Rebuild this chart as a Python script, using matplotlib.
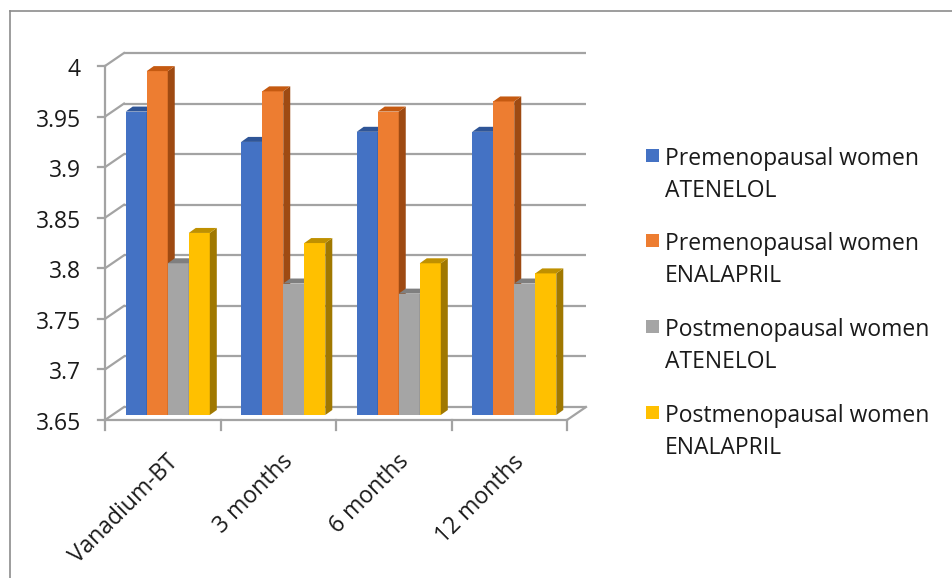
import matplotlib
matplotlib.use("Agg")
import matplotlib.pyplot as plt
from matplotlib.patches import Polygon, Rectangle
from matplotlib.lines import Line2D
import matplotlib.transforms as mtransforms

plt.rcParams['font.family'] = ['Open Sans', 'DejaVu Sans']

categories = ["Vanadium-BT", "3 months", "6 months", "12 months"]
series_names = ["Premenopausal women\nATENELOL", "Premenopausal women\nENALAPRIL",
                "Postmenopausal women\nATENELOL", "Postmenopausal women\nENALAPRIL"]
pre_atenelol = [3.95, 3.92, 3.93, 3.93]
pre_enalapril = [3.99, 3.97, 3.95, 3.96]
post_atenelol = [3.80, 3.78, 3.77, 3.78]
post_enalapril = [3.83, 3.82, 3.80, 3.79]
series_values = [pre_atenelol, pre_enalapril, post_atenelol, post_enalapril]
ytick_values = [3.65, 3.70, 3.75, 3.80, 3.85, 3.90, 3.95, 4.00]
ytick_labels = ["3.65", "3.7", "3.75", "3.8", "3.85", "3.9", "3.95", "4"]

front_colors = ["#4472C4", "#ED7D31", "#A5A5A5", "#FFC000"]
top_colors = ["#2F5597", "#C55A11", "#7F7F7F", "#BF9000"]
side_colors = ["#2A4B86", "#9E4A12", "#6E6E6E", "#A07800"]

FS = 16.5
TXT = "#1a1a1a"

W, H = 953, 578
fig = plt.figure(figsize=(W / 100, H / 100), dpi=100)
fig.patch.set_facecolor("white")

def fx(px):
    return px / W

def fy(py):
    return 1 - py / H

# front plane: x -0.5..3.5 -> 105..567 px, y 3.65..4.0 -> 420..66 px
ax = fig.add_axes([fx(105), fy(420), (567 - 105) / W, (420 - 66) / H])
ymin, ymax = ytick_values[0], ytick_values[-1]
xmin, xmax = -0.5, len(categories) - 0.5
ax.set_xlim(xmin, xmax)
ax.set_ylim(ymin, ymax)
ax.axis("off")

sx = (567 - 105) / (xmax - xmin)
sy = (420 - 66) / (ymax - ymin)

def dx(p):
    return p / sx

def dy(p):
    return p / sy

BX, BY = 19, 13      # back wall offset (px)
FX, FY = 5, 5        # bar front-plane offset (px)
DX, DY = 7, 5        # bar depth (px)
gcol = "#A3A3A3"
glw = 1.6

# back wall gridlines and side-wall diagonals
for v in ytick_values:
    ax.plot([xmin + dx(BX), xmax + dx(BX)], [v + dy(BY)] * 2, color=gcol, lw=glw,
            clip_on=False, zorder=1, solid_capstyle="butt")
    ax.plot([xmin, xmin + dx(BX)], [v, v + dy(BY)], color=gcol, lw=glw,
            clip_on=False, zorder=1)
    ax.plot([xmin - dx(7), xmin], [v, v], color=gcol, lw=glw, clip_on=False, zorder=1)

# front axis lines
ax.plot([xmin, xmin], [ymin, ymax], color=gcol, lw=glw, clip_on=False, zorder=1)
ax.plot([xmin, xmax], [ymin, ymin], color=gcol, lw=glw, clip_on=False, zorder=1)
ax.plot([xmax, xmax + dx(BX)], [ymin, ymin + dy(BY)], color=gcol, lw=glw,
        clip_on=False, zorder=1)
for b in range(len(categories) + 1):
    xb = xmin + b
    ax.plot([xb, xb], [ymin, ymin - dy(10)], color=gcol, lw=glw, clip_on=False, zorder=1)

# y tick labels
for v, lab in zip(ytick_values, ytick_labels):
    ax.text(xmin - dx(24), v - dy(4), lab, ha="right", va="center", fontsize=FS,
            color=TXT, clip_on=False)

# bars
w = 0.182
z = 3
for i in range(len(categories)):
    for j, vals in enumerate(series_values):
        v = vals[i]
        xc = i + (j - 1.5) * w + dx(FX)
        x0, x1 = xc - w / 2, xc + w / 2
        b = ymin + dy(FY)
        t = v + dy(FY)
        ax.bar([xc], [v - ymin], bottom=b, width=w, color=front_colors[j],
               edgecolor="none", zorder=z, clip_on=False)
        side = Polygon([(x1, b), (x1 + dx(DX), b + dy(DY)), (x1 + dx(DX), t + dy(DY)), (x1, t)],
                       closed=True, facecolor=side_colors[j], edgecolor="none",
                       zorder=z, clip_on=False)
        ax.add_patch(side)
        top = Polygon([(x0, t), (x1, t), (x1 + dx(DX), t + dy(DY)), (x0 + dx(DX), t + dy(DY))],
                      closed=True, facecolor=top_colors[j], edgecolor="none",
                      zorder=z + 0.5, clip_on=False)
        ax.add_patch(top)
        z += 1

# category labels
off = mtransforms.ScaledTranslation(3 / 100, -30 / 100, fig.dpi_scale_trans)
for i, cat in enumerate(categories):
    ax.text(i, ymin, cat, transform=ax.transData + off, rotation=45,
            rotation_mode="anchor", ha="right", va="top", fontsize=FS, color=TXT)

# legend
leg_centers = [155, 240.5, 326, 412]
for j, name in enumerate(series_names):
    cy = leg_centers[j]
    fig.patches.append(Rectangle((fx(646), fy(cy + 6.5)), 13 / W, 13 / H,
                                 transform=fig.transFigure, facecolor=front_colors[j],
                                 edgecolor="none"))
    l1, l2 = name.split("\n")
    fig.text(fx(665), fy(cy + 10), l1, fontsize=FS, ha="left", va="baseline", color=TXT)
    fig.text(fx(665), fy(cy + 42), l2, fontsize=FS, ha="left", va="baseline", color=TXT)

# outer frame (top and left visible)
fig.add_artist(Line2D([fx(10), fx(10)], [fy(11), 0], transform=fig.transFigure,
                      color="#8C8C8C", lw=1.2))
fig.add_artist(Line2D([fx(10), 1], [fy(11), fy(11)], transform=fig.transFigure,
                      color="#8C8C8C", lw=1.2))

fig.savefig("out.png", dpi=100, facecolor="white")
